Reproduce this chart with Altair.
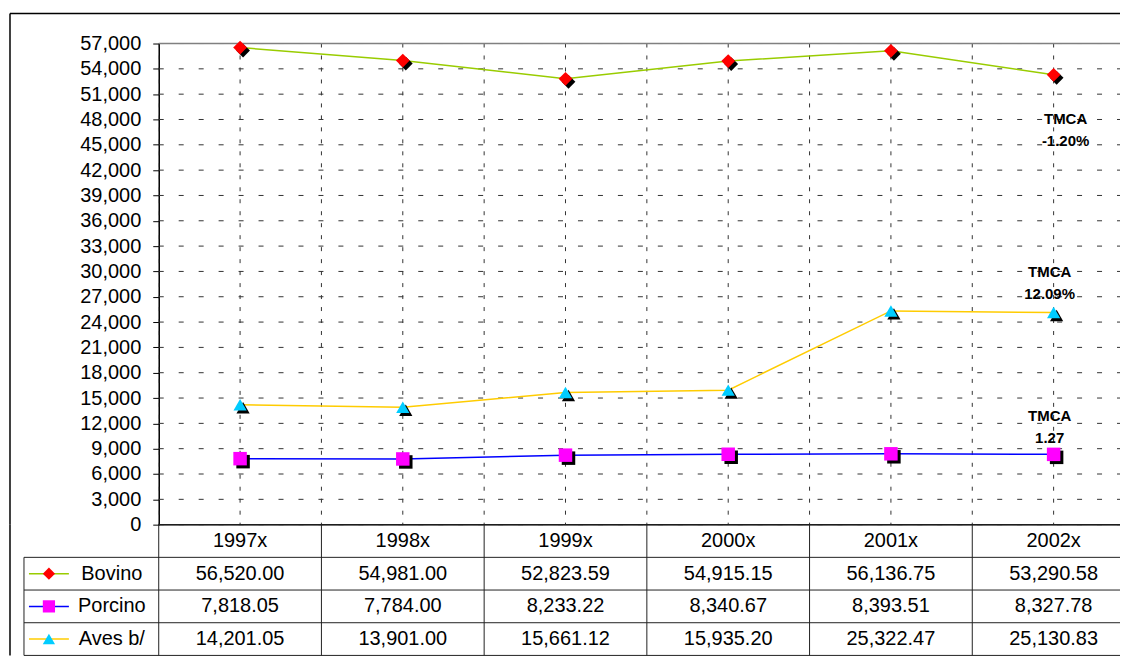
import altair as alt
import pandas as pd

# ---- data ----
years = ["1997x", "1998x", "1999x", "2000x", "2001x", "2002x"]
series_names = ["Bovino", "Porcino", "Aves b/"]
bovino = [56520.00, 54981.00, 52823.59, 54915.15, 56136.75, 53290.58]
porcino = [7818.05, 7784.00, 8233.22, 8340.67, 8393.51, 8327.78]
aves = [14201.05, 13901.00, 15661.12, 15935.20, 25322.47, 25130.83]
y_ticks = list(range(0, 57001, 3000))

tmca_series = ["Bovino", "Bovino", "Aves b/", "Aves b/", "Porcino", "Porcino"]
tmca_text = ["TMCA", "-1.20%", "TMCA", "12.09%", "TMCA", "1.27"]
tmca_y = [48000, 45400, 29900, 27300, 12900, 10300]

# ---- styles ----
line_colors = ["#99CC00", "#0000FF", "#FFCC00"]
marker_colors = ["#FF0000", "#FF00FF", "#00CCFF"]
marker_shapes = ["diamond", "square", "triangle-up"]
marker_sizes = [190, 175, 220]
FONT = "Liberation Sans"
W = 963          # visible plot width (page is cropped at the right)
X_RANGE = 978    # full width of the six category bands
H_PLOT = 482
H_TABLE = 131

rows = []
for name, vals in zip(series_names, [bovino, porcino, aves]):
    for yr, v in zip(years, vals):
        rows.append({"year": yr, "series": name, "value": v})
df = pd.DataFrame(rows)
one = pd.DataFrame({"k": [0]})
yrs = pd.DataFrame({"year": years})
ticks_df = pd.DataFrame({"t": y_ticks})
ann = pd.DataFrame({"series": tmca_series, "text": tmca_text, "y": tmca_y,
                    "year": ["2002x"] * len(tmca_text)})
hdr = pd.DataFrame({"year": years, "row": ["header"] * len(years)})
leg = pd.DataFrame({"series": series_names})

x_scale = alt.Scale(domain=years, range=[0, X_RANGE], paddingInner=0, paddingOuter=0)
y_scale = alt.Scale(domain=[0, 57000], nice=False, zero=True)
stroke_scale = alt.Scale(domain=series_names, range=line_colors)
fill_scale = alt.Scale(domain=series_names, range=marker_colors)
shape_scale = alt.Scale(domain=series_names, range=marker_shapes)
size_scale = alt.Scale(domain=series_names, range=marker_sizes)

y_axis = alt.Axis(values=y_ticks, format=",d", tickSize=6, tickColor="#000",
                  domainColor="#000", domainWidth=1.5, labelPadding=12,
                  labelOverlap=False, grid=False, title=None,
                  labelFont=FONT, labelFontSize=20, labelColor="#000")

X = alt.X("year:N", scale=x_scale, axis=None)
Y = alt.Y("value:Q", scale=y_scale, axis=y_axis)

# horizontal dashed grid
hgrid = alt.Chart(ticks_df).mark_rule(color="#333", strokeDash=[5, 15], strokeWidth=1).encode(
    y=alt.Y("t:Q", scale=y_scale, axis=y_axis), x=alt.value(0), x2=alt.value(W))
# vertical dashed grid at band centres and band edges
vgrid_c = alt.Chart(yrs).mark_rule(color="#333", strokeDash=[4, 8], strokeWidth=1,
                                   clip=True).encode(
    x=alt.X("year:N", scale=x_scale, axis=None, bandPosition=0.5),
    y=alt.value(0), y2=alt.value(H_PLOT))
vgrid_e = alt.Chart(yrs).mark_rule(color="#333", strokeDash=[4, 8], strokeWidth=1,
                                   clip=True).encode(
    x=alt.X("year:N", scale=x_scale, axis=None, bandPosition=0),
    y=alt.value(0), y2=alt.value(H_PLOT))

top_line = alt.Chart(one).mark_rule(color="#808080", strokeWidth=1.5).encode(
    y=alt.Y(datum=57000, scale=y_scale, axis=y_axis), x=alt.value(0), x2=alt.value(W))
base_line = alt.Chart(one).mark_rule(color="#000", strokeWidth=1.5).encode(
    y=alt.Y(datum=0, scale=y_scale, axis=y_axis), x=alt.value(0), x2=alt.value(W))

frame_top = alt.Chart(one).mark_rule(color="#000", strokeWidth=1.5).encode(
    x=alt.value(-149), x2=alt.value(W), y=alt.value(-30))
frame_left = alt.Chart(one).mark_rule(color="#000", strokeWidth=1.5).encode(
    x=alt.value(-149), y=alt.value(-30), y2=alt.value(H_PLOT))

lines = alt.Chart(df).mark_line(strokeWidth=1.5).encode(
    x=X, y=Y,
    stroke=alt.Stroke("series:N", scale=stroke_scale, legend=None),
    detail="series:N")

shadow = alt.Chart(df).mark_point(filled=True, opacity=1, fill="#000",
                                  strokeWidth=0, xOffset=3, yOffset=3).encode(
    x=X, y=Y,
    shape=alt.Shape("series:N", scale=shape_scale, legend=None),
    size=alt.Size("series:N", scale=size_scale, legend=None))

markers = alt.Chart(df).mark_point(filled=True, opacity=1, strokeWidth=0).encode(
    x=X, y=Y,
    shape=alt.Shape("series:N", scale=shape_scale, legend=None),
    size=alt.Size("series:N", scale=size_scale, legend=None),
    fill=alt.Fill("series:N", scale=fill_scale, legend=None))

ann_y = alt.Y("y:Q", scale=y_scale, axis=y_axis)
ann_b = alt.Chart(ann).transform_filter(alt.datum.series == "Bovino").mark_text(
    font=FONT, fontSize=15, fontWeight="bold", color="#000", dx=12).encode(
    x=X, y=ann_y, text="text:N")
ann_o = alt.Chart(ann).transform_filter(alt.datum.series != "Bovino").mark_text(
    font=FONT, fontSize=15, fontWeight="bold", color="#000", dx=-4).encode(
    x=X, y=ann_y, text="text:N")

top = alt.layer(hgrid, vgrid_c, vgrid_e, top_line, base_line, frame_top,
                frame_left, lines, shadow, markers, ann_b, ann_o).properties(
    width=W, height=H_PLOT)

# ---- table ----
ty_scale = alt.Scale(domain=["header"] + series_names, paddingInner=0, paddingOuter=0)
TX = alt.X("year:N", scale=x_scale, axis=None)

hdr_text = alt.Chart(hdr).mark_text(font=FONT, fontSize=20, color="#000").encode(
    x=TX, y=alt.Y("row:N", scale=ty_scale, axis=None), text="year:N")
val_text = alt.Chart(df).mark_text(font=FONT, fontSize=20, color="#000").encode(
    x=TX, y=alt.Y("series:N", scale=ty_scale, axis=None),
    text=alt.Text("value:Q", format=",.2f"))

# table vertical lines at band edges
t_vlines = alt.Chart(yrs).mark_rule(color="#222", strokeWidth=1).encode(
    x=alt.X("year:N", scale=x_scale, axis=None, bandPosition=0),
    y=alt.value(0), y2=alt.value(H_TABLE))
# table horizontal lines (row starts) incl. legend column
t_hdr_line = alt.Chart(one).mark_rule(color="#222", strokeWidth=1).encode(
    x=alt.value(0), x2=alt.value(W), y=alt.value(0))
t_hlines = alt.Chart(leg).mark_rule(color="#222", strokeWidth=1).encode(
    x=alt.value(-135), x2=alt.value(W),
    y=alt.Y("series:N", scale=ty_scale, axis=None, bandPosition=0))
t_bottom = alt.Chart(leg).transform_filter(alt.datum.series == "Aves b/").mark_rule(
    color="#222", strokeWidth=1).encode(
    x=alt.value(-135), x2=alt.value(W),
    y=alt.Y("series:N", scale=ty_scale, axis=None, bandPosition=1))
left_col = alt.Chart(leg).transform_filter(alt.datum.series == "Bovino").mark_rule(
    color="#222", strokeWidth=1).encode(
    x=alt.value(-135),
    y=alt.Y("series:N", scale=ty_scale, axis=None, bandPosition=0),
    y2=alt.value(H_TABLE))

LY = alt.Y("series:N", scale=ty_scale, axis=None)
leg_line = alt.Chart(leg).mark_rule(strokeWidth=1.5).encode(
    x=alt.value(-130), x2=alt.value(-90), y=LY,
    stroke=alt.Stroke("series:N", scale=stroke_scale, legend=None))
leg_mark = alt.Chart(leg).mark_point(filled=True, opacity=1, strokeWidth=0).encode(
    x=alt.value(-110), y=LY,
    shape=alt.Shape("series:N", scale=shape_scale, legend=None),
    fill=alt.Fill("series:N", scale=fill_scale, legend=None),
    size=alt.value(150))
leg_text = alt.Chart(leg).mark_text(font=FONT, fontSize=20, color="#000",
                                     align="center").encode(
    x=alt.value(-47), y=LY, text="series:N")
frame_left2 = alt.Chart(one).mark_rule(color="#000", strokeWidth=1.5).encode(
    x=alt.value(-149), y=alt.value(0), y2=alt.value(H_TABLE))

table = alt.layer(t_vlines, t_hdr_line, t_hlines, t_bottom, left_col,
                  hdr_text, val_text, leg_line, leg_mark, leg_text,
                  frame_left2).properties(width=W, height=H_TABLE)

chart = alt.vconcat(top, table, spacing=0, bounds="flush").properties(
    autosize=alt.AutoSizeParams(type="pad"),
    padding={"left": 0, "top": 3, "right": 0, "bottom": 0},
).configure(background="white").configure_view(stroke="transparent")

chart.save("out.html", embed_options={"renderer": "svg", "actions": False})
